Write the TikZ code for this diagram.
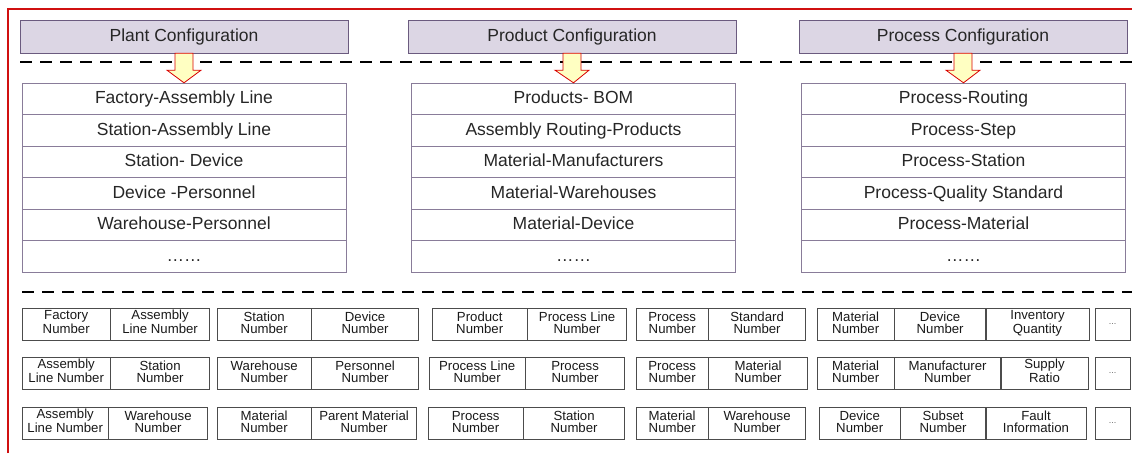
\documentclass[tikz,border=0pt]{standalone}
\usepackage{fontspec}
\setmainfont{Liberation Sans}
\usetikzlibrary{calc}
\definecolor{hdrfill}{HTML}{DCD6E4}
\definecolor{hdrline}{HTML}{6B5B7F}
\definecolor{redframe}{HTML}{D01010}
\definecolor{arrfill}{HTML}{FFFFC2}
% block arrow between a header and the top of its list
\newcommand\cfgarrow[2]{%
  \draw[arr] ($(#1.south)+(-9,0)$) -- ($(#1.south)+(-9,17)$) -- ($(#1.south)+(-17,17)$)
    -- (#2.north) -- ($(#1.south)+(17,17)$) -- ($(#1.south)+(9,17)$) -- ($(#1.south)+(9,0)$) -- cycle;}
\begin{document}
\begin{tikzpicture}[x=1pt, y=-1pt,
  hdr/.style={draw=hdrline, fill=hdrfill, minimum width=328pt, minimum height=33pt, inner sep=0pt,
    text height=12.5pt, text depth=3pt, font=\fontsize{17.5}{20}\selectfont, text=black!85},
  item/.style={draw=hdrline!80, minimum width=324pt, minimum height=31.5pt, inner sep=0pt,
    text height=12.5pt, text depth=2.5pt, font=\fontsize{17.5}{20}\selectfont, text=black!85},
  arr/.style={draw=red!85!black, fill=arrfill, line width=0.8pt},
  sep/.style={line width=1.4pt, dash pattern=on 12pt off 8pt},
  cell/.style={draw=black!70, anchor=north west, minimum height=32pt, inner sep=0pt, align=center,
    text height=21.5pt, text depth=3.5pt, font=\fontsize{13.2}{12}\selectfont, text=black!90},
  more/.style={draw=black!70, anchor=north west, minimum height=32pt, minimum width=35pt,
    inner sep=0pt, font=\fontsize{9}{10}\selectfont, text=black!60}]
\useasboundingbox (0,0) rectangle (1132,453);
\draw[redframe, line width=2pt] (8,453) -- (8,9) -- (1132,9);

% configuration headers
\node[hdr] (plantcfg) at (184,36.5) {Plant Configuration};
\node[hdr] (prodcfg) at (572,36.5) {Product Configuration};
\node[hdr] (proccfg) at (963,36.5) {Process Configuration};
\draw[sep] (20,62) -- (1132,62);

% relation lists
\foreach \t [count=\i] in {Factory-Assembly Line, Station-Assembly Line, Station- Device,
    Device -Personnel, Warehouse-Personnel, ……}
  \node[item] (plant\i) at (184,{67.25+31.5*\i}) {\t};
\foreach \t [count=\i] in {Products- BOM, Assembly Routing-Products, Material-Manufacturers,
    Material-Warehouses, Material-Device, ……}
  \node[item] (prod\i) at (573.5,{67.25+31.5*\i}) {\t};
\foreach \t [count=\i] in {Process-Routing, Process-Step, Process-Station,
    Process-Quality Standard, Process-Material, ……}
  \node[item] (proc\i) at (963.5,{67.25+31.5*\i}) {\t};

\cfgarrow{plantcfg}{plant1}
\cfgarrow{prodcfg}{prod1}
\cfgarrow{proccfg}{proc1}

\draw[sep] (22,292) -- (1132,292);

% key fields, row 1
\node[cell, minimum width=88pt] (a11) at (22,308) {Factory\\Number};
\node[cell, minimum width=99pt] (a12) at (a11.north east) {Assembly\\Line Number};
\node[cell, minimum width=94pt] (b11) at (217,308) {Station\\Number};
\node[cell, minimum width=107pt] (b12) at (b11.north east) {Device\\Number};
\node[cell, minimum width=95pt] (c11) at (432,308) {Product\\Number};
\node[cell, minimum width=99pt] (c12) at (c11.north east) {Process Line\\Number};
\node[cell, minimum width=72pt] (d11) at (636,308) {Process\\Number};
\node[cell, minimum width=97pt] (d12) at (d11.north east) {Standard\\Number};
\node[cell, minimum width=77pt] (e11) at (817,308) {Material\\Number};
\node[cell, minimum width=91pt] (e12) at (e11.north east) {Device\\Number};
\node[cell, minimum width=103pt] (e13) at (e12.north east) {Inventory\\Quantity};
\node[more] (f1) at (1095,308) {...};

% key fields, row 2
\node[cell, minimum width=88pt] (a21) at (22,357) {Assembly\\Line Number};
\node[cell, minimum width=99pt] (a22) at (a21.north east) {Station\\Number};
\node[cell, minimum width=94pt] (b21) at (217,357) {Warehouse\\Number};
\node[cell, minimum width=107pt] (b22) at (b21.north east) {Personnel\\Number};
\node[cell, minimum width=96pt] (c21) at (429,357) {Process Line\\Number};
\node[cell, minimum width=99pt] (c22) at (c21.north east) {Process\\Number};
\node[cell, minimum width=72pt] (d21) at (636,357) {Process\\Number};
\node[cell, minimum width=99pt] (d22) at (d21.north east) {Material\\Number};
\node[cell, minimum width=77pt] (e21) at (817,357) {Material\\Number};
\node[cell, minimum width=106pt] (e22) at (e21.north east) {Manufacturer\\Number};
\node[cell, minimum width=87pt] (e23) at (e22.north east) {Supply\\Ratio};
\node[more] (f2) at (1095,357) {...};

% key fields, row 3
\node[cell, minimum width=86pt] (a31) at (22,407) {Assembly\\Line Number};
\node[cell, minimum width=99pt] (a32) at (a31.north east) {Warehouse\\Number};
\node[cell, minimum width=94pt] (b31) at (217,407) {Material\\Number};
\node[cell, minimum width=105pt] (b32) at (b31.north east) {Parent Material\\Number};
\node[cell, minimum width=95pt] (c31) at (428,407) {Process\\Number};
\node[cell, minimum width=101pt] (c32) at (c31.north east) {Station\\Number};
\node[cell, minimum width=72pt] (d31) at (636,407) {Material\\Number};
\node[cell, minimum width=97pt] (d32) at (d31.north east) {Warehouse\\Number};
\node[cell, minimum width=81pt] (e31) at (819,407) {Device\\Number};
\node[cell, minimum width=85pt] (e32) at (e31.north east) {Subset\\Number};
\node[cell, minimum width=100pt] (e33) at (e32.north east) {Fault\\Information};
\node[more] (f3) at (1095,407) {...};
\end{tikzpicture}
\end{document}
